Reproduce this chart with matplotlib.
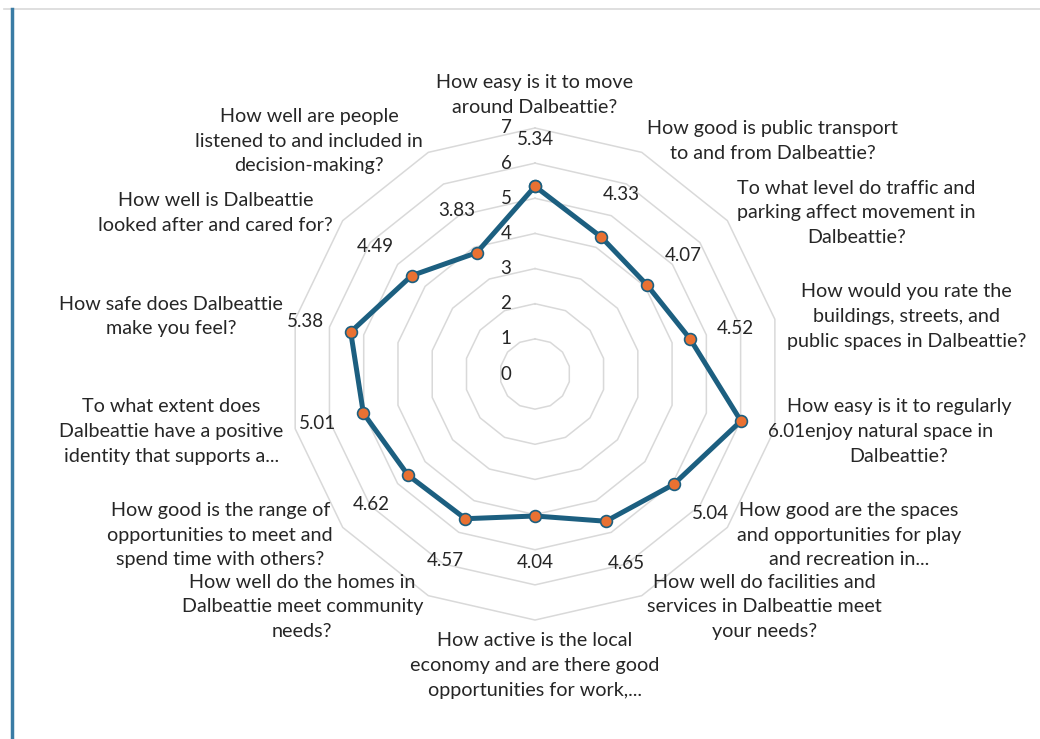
import matplotlib
matplotlib.use("Agg")
import matplotlib.pyplot as plt
import matplotlib.transforms as mtransforms
import numpy as np

plt.rcParams['font.family'] = ['Lato', 'DejaVu Sans']

# survey questions, clockwise from the top
categories = [
    "How easy is it to move\naround Dalbeattie?",
    "How good is public transport\nto and from Dalbeattie?",
    "To what level do traffic and\nparking affect movement in\nDalbeattie?",
    "How would you rate the\nbuildings, streets, and\npublic spaces in Dalbeattie?",
    "How easy is it to regularly\nenjoy natural space in\nDalbeattie?",
    "How good are the spaces\nand opportunities for play\nand recreation in...",
    "How well do facilities and\nservices in Dalbeattie meet\nyour needs?",
    "How active is the local\neconomy and are there good\nopportunities for work,...",
    "How well do the homes in\nDalbeattie meet community\nneeds?",
    "How good is the range of\nopportunities to meet and\nspend time with others?",
    "To what extent does\nDalbeattie have a positive\nidentity that supports a...",
    "How safe does Dalbeattie\nmake you feel?",
    "How well is Dalbeattie\nlooked after and cared for?",
    "How well are people\nlistened to and included in\ndecision-making?",
]
scores = [5.34, 4.33, 4.07, 4.52, 6.01, 5.04, 4.65, 4.04, 4.57, 4.62, 5.01, 5.38, 4.49, 3.83]
rings = [0, 1, 2, 3, 4, 5, 6, 7]

line_col = '#1c5f80'
dot_col = '#e97132'
grid_col = '#d9d9d9'
txt_col = '#262626'

n = len(categories)
theta = np.linspace(0, 2 * np.pi, n, endpoint=False)
theta_c = np.append(theta, theta[0])

fig = plt.figure(figsize=(10.4, 7.39), dpi=100)

# screenshot frame bits
fig.add_artist(plt.Line2D([0.004, 1.0], [0.988, 0.988], color='#d9d9d9', lw=1.2))
fig.add_artist(plt.Line2D([0.0115, 0.0115], [0.0, 0.988], color='#3a7ca5', lw=2.5))

ax = fig.add_axes([0.2779, 0.161, 0.4731, 0.6658], projection='polar')
ax.set_theta_zero_location('N')
ax.set_theta_direction(-1)
ax.set_ylim(0, 7)
ax.grid(False)
ax.spines['polar'].set_visible(False)
ax.set_xticks([])
ax.set_yticks([])
ax.patch.set_alpha(0)

# polygon rings
for r in rings[1:]:
    ax.plot(theta_c, [r] * (n + 1), color=grid_col, lw=1.1, zorder=1, clip_on=False)

# ring labels, left of the top spoke
off = mtransforms.offset_copy(ax.transData, fig=fig, x=-29, y=0, units='dots')
for r in rings:
    ax.text(0, r, str(r), transform=off, ha='center', va='center',
            fontsize=13.5, color=txt_col)

ax.plot(theta_c, np.append(scores, scores[0]), color=line_col, lw=3.6, zorder=3,
        marker='o', markersize=8.5, markerfacecolor=dot_col,
        markeredgecolor=line_col, markeredgewidth=1.2, clip_on=False)

for t, v in zip(theta, scores):
    ax.text(t, v + 1.33, f"{v:.2f}", ha='center', va='center',
            fontsize=13.5, color=txt_col, zorder=4)

for t, lab in zip(theta, categories):
    s = np.sin(t)
    if abs(s) < 1e-6:
        ha = 'center'
        va = 'bottom' if np.cos(t) > 0 else 'top'
    else:
        ha = 'left' if s > 0 else 'right'
        va = 'center'
    ax.text(t, 7.35, lab, ha=ha, va=va, multialignment='center',
            fontsize=14.2, color=txt_col, linespacing=1.55)

fig.savefig('out.png', dpi=100)
